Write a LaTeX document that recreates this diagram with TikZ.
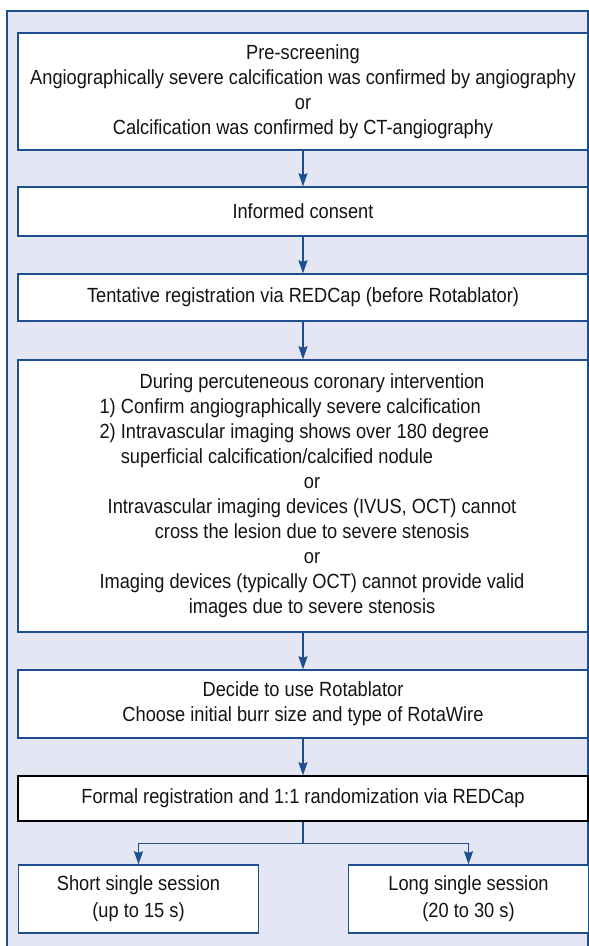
\documentclass[tikz,border=0pt]{standalone}
\usepackage{fontspec}
\setmainfont{Liberation Sans}[FakeStretch=0.89]
\usetikzlibrary{arrows.meta,positioning}
\definecolor{panelbg}{HTML}{E4E7F3}
\definecolor{lineblue}{HTML}{1D4E8E}
\definecolor{inktext}{HTML}{141414}
\tikzset{
  stage/.style={draw=lineblue, fill=white, line width=1.4pt, minimum width=570pt,
    inner sep=0pt, align=center, text=inktext, font=\fontsize{20.5}{25}\selectfont},
  arm/.style={stage, minimum width=240pt, minimum height=68pt, font=\fontsize{20.5}{27}\selectfont},
  flow/.style={->, draw=lineblue, line width=1.4pt}
}

\begin{document}
\begin{tikzpicture}[x=1pt, y=-1pt, >={Stealth[length=13pt,width=9pt,inset=1.5pt]}]
	\useasboundingbox (0,0) rectangle (589,946);
	\clip (0,0) rectangle (589,946);
	% panel behind the chart
	\draw[fill=panelbg, draw=lineblue, line width=1.4pt] (7,11) rectangle (588,990);

	\node[stage, minimum height=117pt] (prescreen) at (303,91.5) {Pre-screening\\Angiographically severe calcification was confirmed by angiography\\or\\Calcification was confirmed by CT-angiography};
	\node[stage, minimum height=49pt] (consent) at (303,211.5) {Informed consent};
	\node[stage, minimum height=47pt] (tentative) at (303,297.5) {Tentative registration via REDCap (before Rotablator)};
	\node[stage, minimum height=272pt] (pci) at (303,496) {\begin{tabular}{@{\hspace{18pt}}c@{}}
		During percuteneous coronary intervention\\
		\multicolumn{1}{@{\hspace{18pt}}l@{}}{1)~Confirm angiographically severe calcification}\\
		\multicolumn{1}{@{\hspace{18pt}}l@{}}{2)~Intravascular imaging shows over 180 degree}\\
		\multicolumn{1}{@{\hspace{18pt}}l@{}}{\phantom{2)~}superficial calcification/calcified nodule}\\
		or\\
		Intravascular imaging devices (IVUS, OCT) cannot\\
		cross the lesion due to severe stenosis\\
		or\\
		Imaging devices (typically OCT) cannot provide valid\\
		images due to severe stenosis
	\end{tabular}};
	\node[stage, minimum height=68pt] (decide) at (303,704) {Decide to use Rotablator\\Choose initial burr size and type of RotaWire};
	\node[stage, draw=black, minimum height=45pt] (formal) at (303,798.5) {Formal registration and 1:1 randomization via REDCap};
	\node[arm] (short) at (138.5,899) {Short single session\\(up to 15 s)};
	\node[arm] (long) at (468.5,899) {Long single session\\(20 to 30 s)};

	\draw[flow] (prescreen) -- (consent);
	\draw[flow] (consent) -- (tentative);
	\draw[flow] (tentative) -- (pci);
	\draw[flow] (pci) -- (decide);
	\draw[flow] (decide) -- (formal);
	% split into the two arms
	\path (formal.south) ++(0,22) coordinate (fork);
	\draw[draw=lineblue, line width=1.4pt] (formal.south) -- (fork);
	\draw[flow] (fork) -| (short.north);
	\draw[flow] (fork) -| (long.north);
\end{tikzpicture}
\end{document}
